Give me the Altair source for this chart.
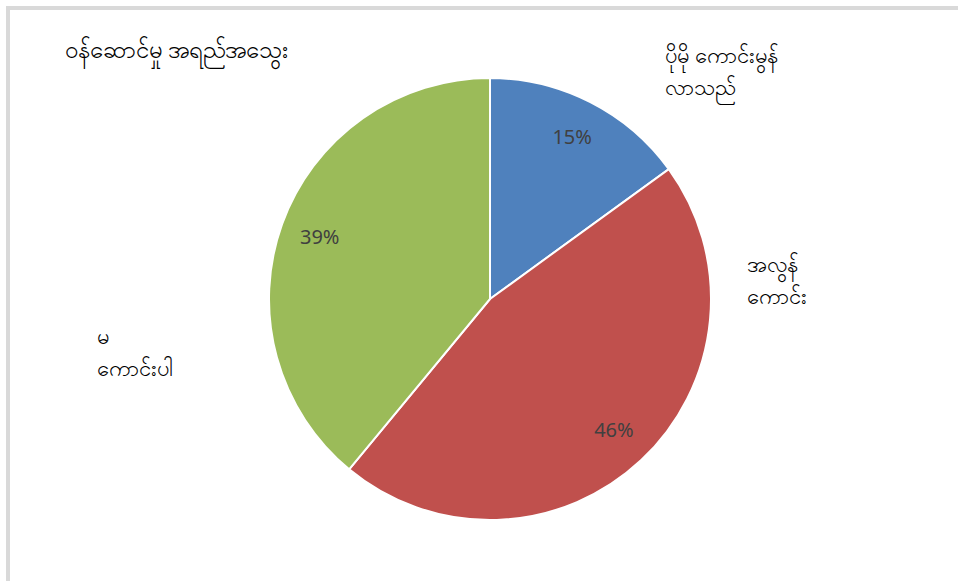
import altair as alt
import pandas as pd

# data
categories = ["ပိုမို ကောင်းမွန်\nလာသည်", "အလွန်\nကောင်း", "မ\nကောင်းပါ"]
keys = ["a", "b", "c"]
values = [15, 46, 39]
order_idx = [0, 1, 2]
colors = ["#4F81BD", "#C0504D", "#9BBB59"]
title_text = "ဝန်ဆောင်မှု အရည်အသွေး"

df = pd.DataFrame({"key": keys, "label": categories, "value": values, "idx": order_idx})

FONT = "Noto Sans"
W, H = 958, 581
CX, CY = 490, 299

base = alt.Chart(df).transform_window(
    cum="sum(value)", sort=[alt.SortField("idx")]
).transform_joinaggregate(
    total="sum(value)"
).transform_calculate(
    mid="(datum.cum - datum.value/2) / datum.total * 100",
    pct="round(datum.value / datum.total * 100) + '%'",
    lines="split(datum.label, '\\n')",
)

pie = alt.Chart(df).mark_arc(outerRadius=221, stroke="white", strokeWidth=2).encode(
    theta=alt.Theta("value:Q", stack=True),
    color=alt.Color("key:N", scale=alt.Scale(domain=keys, range=colors), legend=None),
    order=alt.Order("idx:Q"),
    x=alt.value(CX), y=alt.value(CY),
)

theta_mid = alt.Theta("mid:Q", scale=alt.Scale(domain=[0, 100]), stack=None)

pct_text = base.mark_text(radius=181, font=FONT, fontSize=20, color="#404040",
                          baseline="middle").encode(
    theta=theta_mid, text="pct:N", x=alt.value(CX), y=alt.value(CY)
)

offsets = {"a": (66, -22), "b": (93, -202), "c": (-167, 126)}
outer_layers = []
for k in keys:
    dx, dy = offsets[k]
    outer_layers.append(
        base.transform_filter(alt.datum.key == k).mark_text(
            radius=240, dx=dx, dy=dy, align="left", baseline="alphabetic",
            font=FONT, fontSize=22, lineHeight=32, color="#000000",
        ).encode(theta=theta_mid, text="lines:N", x=alt.value(CX), y=alt.value(CY))
    )

title = alt.Chart(pd.DataFrame({"t": [title_text]})).mark_text(
    align="left", baseline="alphabetic", font=FONT, fontSize=24, color="#000000"
).encode(x=alt.value(65), y=alt.value(58), text="t:N")

border_top = alt.Chart(pd.DataFrame({"z": [0]})).mark_rule(
    color="#d9d9d9", strokeWidth=4
).encode(x=alt.value(6), x2=alt.value(W), y=alt.value(8))
border_left = alt.Chart(pd.DataFrame({"z": [0]})).mark_rule(
    color="#d9d9d9", strokeWidth=4
).encode(x=alt.value(8), y=alt.value(6), y2=alt.value(H))

chart = alt.layer(border_top, border_left, pie, pct_text, *outer_layers, title).properties(
    width=W, height=H,
    autosize=alt.AutoSizeParams(type="none"),
    padding=0,
).configure_view(stroke=None)

chart.save("out.html", embed_options={"renderer": "svg", "actions": False})
